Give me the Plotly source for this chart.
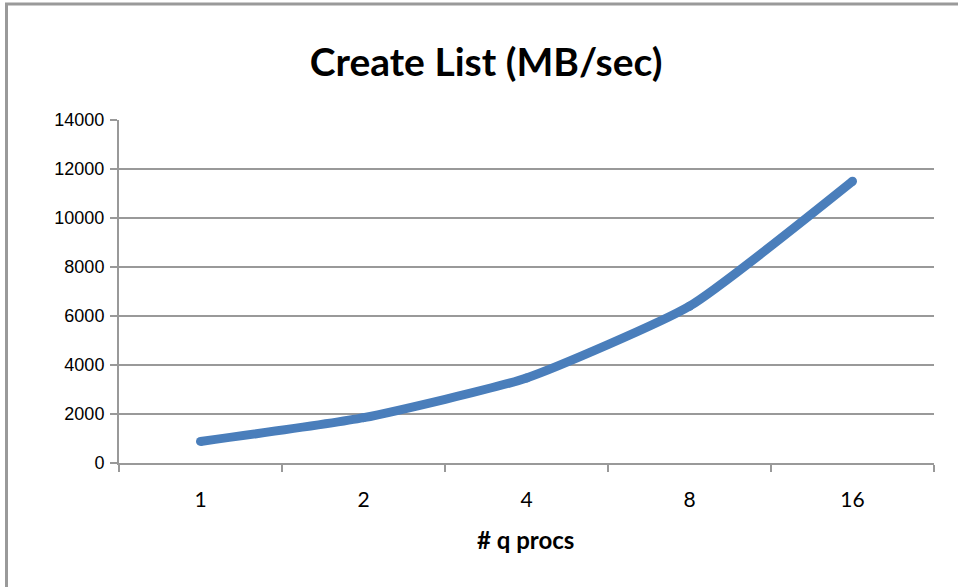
import plotly.graph_objects as go

categories = ["1", "2", "4", "8", "16"]
values = [880, 1850, 3470, 6400, 11500]
y_ticks = [0, 2000, 4000, 6000, 8000, 10000, 12000, 14000]
y_tick_text = ["0", "2000", "4000", "6000", "8000", "10000", "12000", "14000"]

title_text = "Create List (MB/sec)"
x_title = "# q procs"

W, H = 958, 587
L, R, T, B = 119, 934, 120, 463

def px_x(p):
    return (p - L) / (R - L)

def px_y(p):
    return (B - p) / (B - T)

fig = go.Figure()
fig.add_trace(go.Scatter(
    x=categories, y=values, mode="lines+markers",
    line=dict(color="#4a7ebb", width=9, shape="spline", smoothing=0.5),
    marker=dict(color="#4a7ebb", size=9, line=dict(width=0)),
    hoverinfo="x+y", showlegend=False,
))

grid = "#999999"
fig.update_layout(
    width=W, height=H,
    margin=dict(l=L, r=W - R, t=T, b=H - B, pad=0),
    paper_bgcolor="white", plot_bgcolor="white",
    title=dict(text="<b>" + title_text + "</b>", x=486 / W, xanchor="center",
               y=1 - 62 / H, yanchor="middle", yref="container",
               font=dict(family="Lato", size=39, color="#000000")),
    xaxis=dict(type="category", range=[-0.5, 4.5], tickson="boundaries",
               ticks="outside", ticklen=7, tickwidth=1.5, tickcolor=grid,
               showline=True, linecolor=grid, linewidth=2, showgrid=False,
               tickfont=dict(family="Lato", size=21, color="#000000"),
               ticklabelstandoff=17, zeroline=False),
    yaxis=dict(range=[0, 14000], tickvals=y_ticks, ticktext=y_tick_text,
               ticks="outside", ticklen=7,
               tickwidth=1.5, tickcolor=grid, showline=True, linecolor=grid,
               linewidth=2, showgrid=True, gridcolor=grid, gridwidth=2,
               zeroline=False,
               tickfont=dict(family="Liberation Sans", size=18, color="#000000"),
               ticklabelstandoff=2),
    annotations=[dict(text="<b>" + x_title + "</b>", xref="paper", yref="paper",
                      x=px_x(525), y=px_y(539), xanchor="center", yanchor="middle",
                      showarrow=False,
                      font=dict(family="Lato", size=24, color="#000000"))],
    shapes=[
        dict(type="line", xref="paper", yref="paper", x0=px_x(5), x1=px_x(960),
             y0=px_y(4), y1=px_y(4), line=dict(color="#9a9a9a", width=3)),
        dict(type="line", xref="paper", yref="paper", x0=px_x(6.5), x1=px_x(6.5),
             y0=px_y(4), y1=px_y(590), line=dict(color="#9a9a9a", width=3)),
    ],
)

fig.write_html("out.html", config={"displayModeBar": False},
               post_script="document.body.style.margin='0';document.body.style.overflow='hidden';")
